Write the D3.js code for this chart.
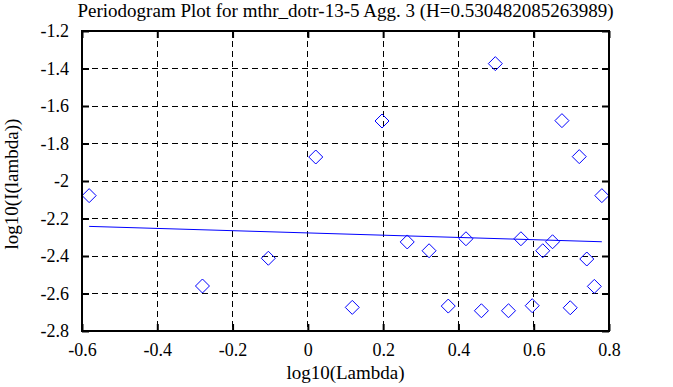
<!DOCTYPE html>
<html>
<head>
<meta charset="utf-8">
<script src="https://cdn.jsdelivr.net/npm/d3@7"></script>
<style>
  body { margin: 0; background: #fff; }
</style>
</head>
<body>
<svg id="chart"></svg>
<script>
// log10 frequency / log10 periodogram values
const logLambda = [-0.581, -0.280, -0.105, 0.021, 0.118, 0.197, 0.264, 0.322, 0.373, 0.420,
  0.461, 0.498, 0.533, 0.566, 0.596, 0.624, 0.650, 0.675, 0.697, 0.721, 0.741, 0.761, 0.781];
const logI = [-2.078, -2.560, -2.412, -1.872, -2.674, -1.680, -2.325, -2.372, -2.667, -2.308,
  -2.692, -1.374, -2.692, -2.308, -2.665, -2.372, -2.324, -1.678, -2.676, -1.870, -2.416, -2.562, -2.078];

// fitted line end points
const fitX = [-0.581, 0.781];
const fitY = [-2.242, -2.324];

const xTicks = [-0.6, -0.4, -0.2, 0, 0.2, 0.4, 0.6, 0.8];
const yTicks = [-2.8, -2.6, -2.4, -2.2, -2, -1.8, -1.6, -1.4, -1.2];

const title = "Periodogram Plot for mthr_dotr-13-5 Agg. 3 (H=0.530482085263989)";

const width = 673;
const height = 387;
const margin = {left: 82, right: 64, top: 31, bottom: 56};
const serif = "'Liberation Serif', 'Times New Roman', Tinos, 'DejaVu Serif', serif";

const svg = d3.select("#chart")
  .attr("width", width)
  .attr("height", height);

const x = d3.scaleLinear().domain([-0.6, 0.8]).range([margin.left, width - margin.right]);
const y = d3.scaleLinear().domain([-2.8, -1.2]).range([height - margin.bottom, margin.top]);

const fmt = d => d3.format("~g")(d).replace("−", "-");

// dashed grid
const grid = svg.append("g")
  .attr("stroke", "#000")
  .attr("stroke-width", 1)
  .attr("stroke-dasharray", "6,4")
  .attr("shape-rendering", "crispEdges");

grid.selectAll(".gx")
  .data(xTicks.slice(1, -1))
  .enter().append("line")
    .attr("x1", d => x(d)).attr("x2", d => x(d))
    .attr("y1", y(-1.2)).attr("y2", y(-2.8));

grid.selectAll(".gy")
  .data(yTicks.slice(1, -1))
  .enter().append("line")
    .attr("y1", d => y(d)).attr("y2", d => y(d))
    .attr("x1", x(-0.6)).attr("x2", x(0.8));

// fit line
svg.append("line")
  .attr("x1", x(fitX[0])).attr("y1", y(fitY[0]))
  .attr("x2", x(fitX[1])).attr("y2", y(fitY[1]))
  .attr("stroke", "#0000ff")
  .attr("stroke-width", 1);

// diamonds
const pts = logLambda.map((v, i) => [v, logI[i]]);
const r = 7;
svg.append("g")
  .selectAll("path")
  .data(pts)
  .enter().append("path")
    .attr("d", d => {
      const cx = x(d[0]), cy = y(d[1]);
      return `M${cx},${cy - r}L${cx + r},${cy}L${cx},${cy + r}L${cx - r},${cy}Z`;
    })
    .attr("fill", "none")
    .attr("stroke", "#0000ff")
    .attr("stroke-width", 1);

// axes: inward ticks on all four sides
const tl = 7;
const axes = svg.append("g");
axes.append("g")
  .attr("transform", `translate(0,${y(-2.8)})`)
  .call(d3.axisBottom(x).tickValues(xTicks).tickSizeInner(-tl).tickSizeOuter(0).tickPadding(12).tickFormat(fmt));
axes.append("g")
  .attr("transform", `translate(0,${y(-1.2)})`)
  .call(d3.axisTop(x).tickValues(xTicks).tickSizeInner(-tl).tickSizeOuter(0).tickFormat(""));
axes.append("g")
  .attr("transform", `translate(${x(-0.6)},0)`)
  .call(d3.axisLeft(y).tickValues(yTicks).tickSizeInner(-tl).tickSizeOuter(0).tickPadding(13).tickFormat(fmt));
axes.append("g")
  .attr("transform", `translate(${x(0.8)},0)`)
  .call(d3.axisRight(y).tickValues(yTicks).tickSizeInner(-tl).tickSizeOuter(0).tickFormat(""));

axes.selectAll(".domain").remove();
axes.selectAll("g").attr("font-family", null);
axes.selectAll(".tick line").attr("stroke", "#000").attr("stroke-width", 2);
axes.selectAll(".tick text")
  .style("font-family", serif)
  .style("font-size", "18px")
  .attr("fill", "#000");

// frame
svg.append("rect")
  .attr("x", x(-0.6)).attr("y", y(-1.2))
  .attr("width", x(0.8) - x(-0.6))
  .attr("height", y(-2.8) - y(-1.2))
  .attr("fill", "none")
  .attr("stroke", "#000")
  .attr("stroke-width", 2);

// labels
svg.append("text")
  .attr("x", (x(-0.6) + x(0.8)) / 2)
  .attr("y", 17)
  .attr("text-anchor", "middle")
  .style("font-family", serif)
  .style("font-size", "19px")
  .text(title);

svg.append("text")
  .attr("x", (x(-0.6) + x(0.8)) / 2)
  .attr("y", 379)
  .attr("text-anchor", "middle")
  .style("font-family", serif)
  .style("font-size", "19px")
  .text("log10(Lambda)");

svg.append("text")
  .attr("transform", `translate(18,${(y(-1.2) + y(-2.8)) / 2 + 3}) rotate(-90)`)
  .attr("text-anchor", "middle")
  .style("font-family", serif)
  .style("font-size", "19px")
  .text("log10(I(lambda))");
</script>
</body>
</html>
